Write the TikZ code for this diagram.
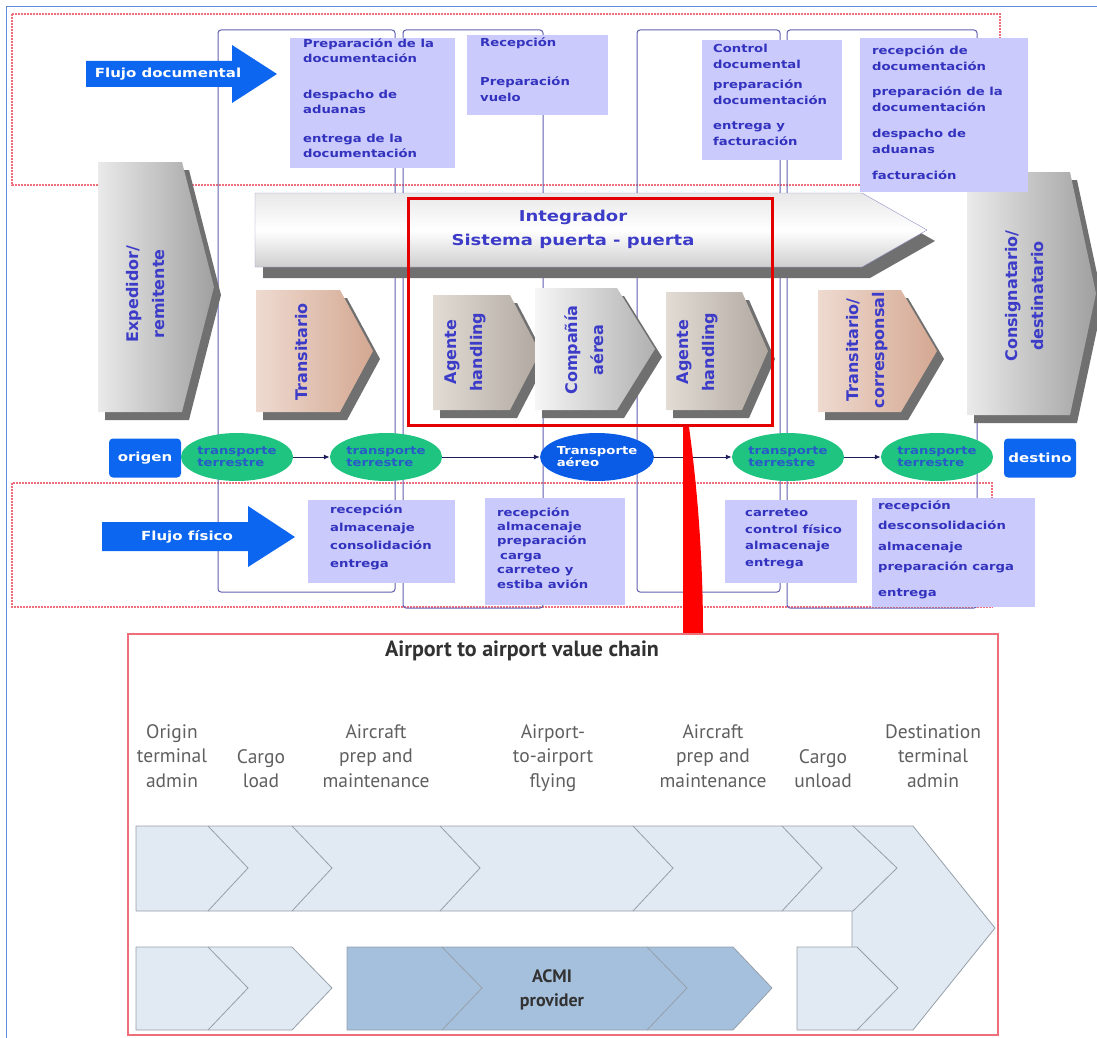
\documentclass[tikz,border=0pt]{standalone}
\usepackage{fontspec}
\setmainfont{DejaVu Sans}
\newfontfamily\anchafont[FakeStretch=1.2]{DejaVu Sans}
\newfontfamily\cadenafont{PT Sans}
\usetikzlibrary{shapes.geometric,arrows.meta}

\definecolor{marco}{RGB}{100,140,220}
\definecolor{rosa}{RGB}{238,110,122}
\definecolor{linea}{RGB}{96,96,176}
\definecolor{lila}{RGB}{202,202,252}
\definecolor{azultexto}{RGB}{50,50,190}
\definecolor{azulgalon}{RGB}{60,60,200}
\definecolor{azulflujo}{RGB}{12,102,240}
\definecolor{azulaereo}{RGB}{10,92,230}
\definecolor{azulverde}{RGB}{40,90,200}
\definecolor{azulnoche}{RGB}{30,30,90}
\definecolor{verde}{RGB}{30,196,128}
\definecolor{grissombra}{RGB}{112,112,112}
\definecolor{gris1}{RGB}{234,234,234}
\definecolor{gris2}{RGB}{160,160,160}
\definecolor{tan1}{RGB}{238,218,208}
\definecolor{tan2}{RGB}{212,168,146}
\definecolor{topo1}{RGB}{226,220,212}
\definecolor{topo2}{RGB}{176,168,160}
\definecolor{plata1}{RGB}{246,246,246}
\definecolor{plata2}{RGB}{176,176,176}
\definecolor{celeste}{RGB}{225,233,242}
\definecolor{acmi}{RGB}{165,192,220}
\definecolor{grisbanda}{RGB}{150,160,170}
\definecolor{gristexto}{RGB}{95,95,95}
\definecolor{gristitulo}{RGB}{50,50,50}

\tikzset{
  punteado/.style={draw=rosa, line width=1.6pt, dash pattern=on 2pt off 1pt},
  columna/.style={draw=linea, line width=1pt, rounded corners=3pt},
  caja/.style={fill=lila},
  texto/.style={anchor=north west, inner sep=0pt, align=left, text=azultexto,
    font=\anchafont\bfseries\fontsize{11}{#1}\selectfont},
  flujo/.style={fill=azulflujo},
  rotulo/.style={inner sep=0pt, text=white, font=\anchafont\bfseries\fontsize{12.5}{14}\selectfont},
  sombra/.style={fill=grissombra},
  galon/.style={rotate=90, align=center, inner sep=0pt, text=azulgalon,
    font=\bfseries\fontsize{16}{26}\selectfont},
  transporte/.style={ellipse, fill=verde, minimum width=110pt, minimum height=48pt,
    inner sep=0pt, align=left, text=azulverde,
    font=\anchafont\bfseries\fontsize{11}{12}\selectfont},
  aereo/.style={transporte, fill=azulaereo, text=white},
  extremo/.style={rectangle, rounded corners=4pt, fill=azulflujo, minimum width=72pt,
    minimum height=39pt, inner sep=0pt, text=white,
    font=\anchafont\bfseries\fontsize{12.5}{14}\selectfont},
  conector/.style={draw=azulnoche, line width=1pt, -{Latex[length=6pt,width=5pt]}},
  banda/.style={fill=celeste, draw=grisbanda, line width=0.8pt, line join=round},
  etiqueta/.style={anchor=north, align=center, inner sep=0pt, text=gristexto,
    font=\cadenafont\fontsize{19.5}{24.5}\selectfont},
}

\begin{document}
\begin{tikzpicture}[x=1pt,y=-1pt]
\useasboundingbox (0,0) rectangle (1097,1038);
\draw[marco, line width=1pt] (6,1038) -- (6,7) -- (1097,7); % marco

% zonas de flujo
\draw[punteado] (12,14) rectangle (1000,185);
\draw[punteado] (12,483) rectangle (992,607);

% columnas
\foreach \xa/\xb/\yb in {218/395/592, 403/543/608, 637/780/592, 787/977/608}
  \draw[columna] (\xa,30) rectangle (\xb,\yb);

% galones con sombra
\foreach \xa/\xb/\xt/\ya/\yb/\ci/\cd in {98/182/214/162/412/gris1/gris2,
    256/340/373/290/412/tan1/tan2, 433/510/540/295/410/topo1/topo2,
    535/617/655/288/410/plata1/plata2, 666/742/768/292/410/topo1/topo2,
    818/901/937/290/412/tan1/tan2, 967/1070/1096/172/415/gris1/gris2}
{
  \fill[sombra, shift={(7,8)}] (\xa,\ya) -- (\xb,\ya) -- (\xt,{(\ya+\yb)/2})
    -- (\xb,\yb) -- (\xa,\yb) -- cycle;
  \shade[left color=\ci, right color=\cd] (\xa,\ya) -- (\xb,\ya)
    -- (\xt,{(\ya+\yb)/2}) -- (\xb,\yb) -- (\xa,\yb) -- cycle;
}
\node[galon] (expedidor) at (146,294) {Expedidor/\\remitente};
\node[galon] (transitario) at (302,352) {Transitario};
\node[galon] (agente1) at (465,352) {Agente\\handling};
\node[galon] (compania) at (584,350) {Compañía\\aérea};
\node[galon] (agente2) at (697,352) {Agente\\handling};
\node[galon] (corresponsal) at (867,350) {Transitario/\\corresponsal};
\node[galon] (consignatario) at (1025,296) {Consignatario/\\destinatario};

% integrador
\fill[sombra, shift={(8,11)}] (255,193) -- (862,193) -- (927,230) -- (862,267) -- (255,267) -- cycle;
\shade[top color=gray!18, bottom color=gray!38, middle color=white, draw=linea!70]
  (255,193) -- (862,193) -- (927,230) -- (862,267) -- (255,267) -- cycle;
\node[align=center, inner sep=0pt, text=azulgalon,
  font=\anchafont\bfseries\fontsize{15}{24}\selectfont] (integrador) at (573,229)
  {Integrador\\Sistema puerta - puerta};

% flujo documental
\fill[flujo] (86,61) -- (232,61) -- (232,45) -- (277,74) -- (232,103) -- (232,87) -- (86,87) -- cycle;
\node[rotulo] (fdoc) at (168,74) {Flujo documental};
\fill[caja] (290,38) rectangle (455,168);
\node[texto=14.5] (doc1) at (303,39) {Preparación de la\\documentación\\[22pt]despacho de\\aduanas\\[15pt]entrega de la\\documentación};
\fill[caja] (467,35) rectangle (608,115);
\node[texto=14.5] (doc2) at (480,38) {Recepción\\[24pt]Preparación\\[2pt]vuelo};
\fill[caja] (702,40) rectangle (842,160);
\node[texto=15.5] (doc3) at (713,44) {Control\\documental\\[5pt]preparación\\documentación\\[10pt]entrega y\\facturación};
\fill[caja] (860,38) rectangle (1028,192);
\node[texto=16] (doc4) at (872,46) {recepción de\\documentación\\[9pt]preparación de la\\documentación\\[10pt]despacho de\\aduanas\\[10pt]facturación};

% flujo fisico
\fill[flujo] (102,522) -- (248,522) -- (248,506) -- (295,537) -- (248,567) -- (248,551) -- (102,551) -- cycle;
\node[rotulo] (ffis) at (187,537) {Flujo físico};
\fill[caja] (308,500) rectangle (455,583);
\node[texto=18] (fis1) at (330,504) {recepción\\almacenaje\\consolidación\\entrega};
\fill[caja] (485,498) rectangle (625,605);
\node[texto=14.4] (fis2) at (497,507) {recepción\\almacenaje\\preparación\\\hspace{3pt}carga\\carreteo y\\estiba avión};
\fill[caja] (725,500) rectangle (857,583);
\node[texto=16.5] (fis3) at (745,509) {carreteo\\control físico\\almacenaje\\entrega};
\fill[caja] (872,498) rectangle (1035,607);
\node[texto=20.5] (fis4) at (878,500) {recepción\\desconsolidación\\almacenaje\\preparación carga\\[5pt]entrega};

% transportes
\node[extremo] (origen) at (145,458) {origen};
\node[transporte] (t1) at (237,457) {transporte\\terrestre};
\node[transporte] (t2) at (386,457) {transporte\\terrestre};
\node[aereo] (aereo) at (597,457) {Transporte\\aéreo};
\node[transporte] (t3) at (788,457) {transporte\\terrestre};
\node[transporte] (t4) at (937,457) {transporte\\terrestre};
\node[extremo] (destino) at (1040,458) {destino};
\draw[conector] (t1) -- (t2);
\draw[conector] (t2) -- (aereo);
\draw[conector] (aereo) -- (t3);
\draw[conector] (t3) -- (t4);

% recuadro rojo y cuña
\draw[red!90!black, line width=3pt] (408,198) rectangle (772,425);
\fill[red] (683,427) -- (689,427) .. controls (699,500) and (703,570) .. (703,634) -- (683,634) -- cycle;

% cadena aeropuerto a aeropuerto
\draw[rosa, line width=2pt] (128,634) rectangle (998,1035);
\node[text=gristitulo, font=\cadenafont\bfseries\fontsize{22}{24}\selectfont] (titulo) at (522,651) {Airport to airport value chain};
\node[etiqueta] (e1) at (172,724) {Origin\\terminal\\admin};
\node[etiqueta] (e2) at (261,749) {Cargo\\load};
\node[etiqueta] (e3) at (376,724) {Aircraft\\prep and\\maintenance};
\node[etiqueta] (e4) at (553,724) {Airport-\\to-airport\\flying};
\node[etiqueta] (e5) at (713,724) {Aircraft\\prep and\\maintenance};
\node[etiqueta] (e6) at (823,749) {Cargo\\unload};
\node[etiqueta] (e7) at (933,724) {Destination\\terminal\\admin};

\draw[banda] (852,826) -- (913,826) -- (995,928) -- (913,1030) -- (852,1030) -- cycle; % destino
\draw[banda] (136,826) -- (853,826) -- (897,868) -- (853,911) -- (136,911) -- cycle;
\foreach \x in {208,292,440,633,782}
  \draw[grisbanda, line width=0.8pt] (\x,826) -- (\x+40,868) -- (\x,911);
\draw[banda] (136,947) -- (292,947) -- (332,988) -- (292,1030) -- (136,1030) -- cycle;
\draw[grisbanda, line width=0.8pt] (208,947) -- (248,988) -- (208,1030);
\draw[banda, fill=acmi] (347,947) -- (733,947) -- (772,988) -- (733,1030) -- (347,1030) -- cycle;
\foreach \x in {442,647}
  \draw[grisbanda, line width=0.8pt] (\x,947) -- (\x+40,988) -- (\x,1030);
\draw[banda] (797,947) -- (857,947) -- (898,988) -- (857,1030) -- (797,1030) -- cycle;
\node[align=center, text=gristitulo, font=\cadenafont\bfseries\fontsize{18}{24}\selectfont] (acmi) at (552,990) {ACMI\\provider};
\end{tikzpicture}
\end{document}
